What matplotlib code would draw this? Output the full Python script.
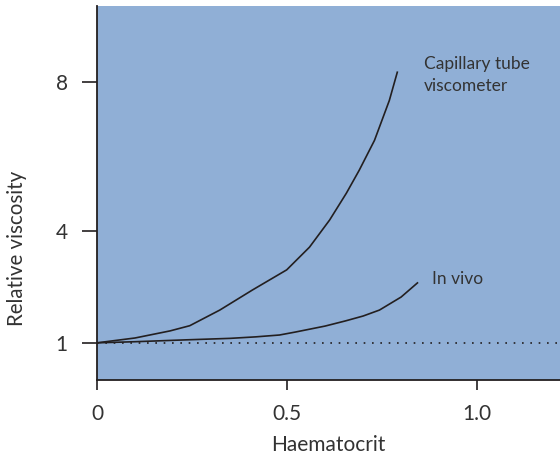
import matplotlib
matplotlib.use("Agg")
import matplotlib.pyplot as plt

# values
capillary_x = [0.0, 0.1, 0.192, 0.244, 0.323, 0.409, 0.499, 0.559, 0.612, 0.656, 0.69, 0.73, 0.769, 0.79]
capillary_y = [1.0, 1.13, 1.32, 1.46, 1.88, 2.42, 2.96, 3.57, 4.30, 5.02, 5.64, 6.44, 7.51, 8.27]
invivo_x = [0.0, 0.1, 0.234, 0.35, 0.417, 0.48, 0.522, 0.6, 0.654, 0.7, 0.743, 0.8, 0.843]
invivo_y = [1.0, 1.03, 1.08, 1.12, 1.16, 1.21, 1.29, 1.45, 1.59, 1.72, 1.88, 2.23, 2.61]
baseline_y = 1.0

xticks = [0, 0.5, 1.0]
xtick_labels = ["0", "0.5", "1.0"]
yticks = [1, 4, 8]
ytick_labels = ["1", "4", "8"]

bg = "#90afd6"
ink = "#231f20"
txt = "#333333"

plt.rcParams["font.family"] = ["Lato", "DejaVu Sans"]

fig = plt.figure(figsize=(5.6, 4.59), dpi=100)
ax = fig.add_axes([0.1732, 0.172, 0.8268, 0.815])
ax.set_facecolor(bg)

ax.plot(capillary_x, capillary_y, color=ink, lw=1.2)
ax.plot(invivo_x, invivo_y, color=ink, lw=1.2)
ax.axhline(baseline_y, color=ink, lw=1.2, ls=(0, (1, 4)))

ax.set_xlim(0, 1.218)
ax.set_ylim(0, 10.05)

for s in ["top", "right"]:
    ax.spines[s].set_visible(False)
for s in ["left", "bottom"]:
    ax.spines[s].set_color(ink)
    ax.spines[s].set_linewidth(1.3)

ax.set_xticks(xticks)
ax.set_xticklabels(xtick_labels)
ax.set_yticks(yticks)
ax.set_yticklabels(ytick_labels)
ax.tick_params(axis="x", length=7, width=1.2, color=ink, pad=10, labelsize=15, labelcolor=txt)
ax.tick_params(axis="y", length=11, width=1.2, color=ink, pad=10, labelsize=15, labelcolor=txt)

ax.set_xlabel("Haematocrit", fontsize=15, color=txt, labelpad=8)
ax.set_ylabel("Relative viscosity", fontsize=14.8, color=txt)
# label sits low on the axis in the original, not centred
ax.yaxis.set_label_coords(-0.151, 0.353)

ax.text(0.861, 8.2, "Capillary tube\nviscometer", fontsize=12.5, color=txt,
        va="center", ha="left", linespacing=1.45)
ax.text(0.882, 2.72, "In vivo", fontsize=12.5, color=txt, va="center", ha="left")

fig.savefig("out.png", dpi=100)
